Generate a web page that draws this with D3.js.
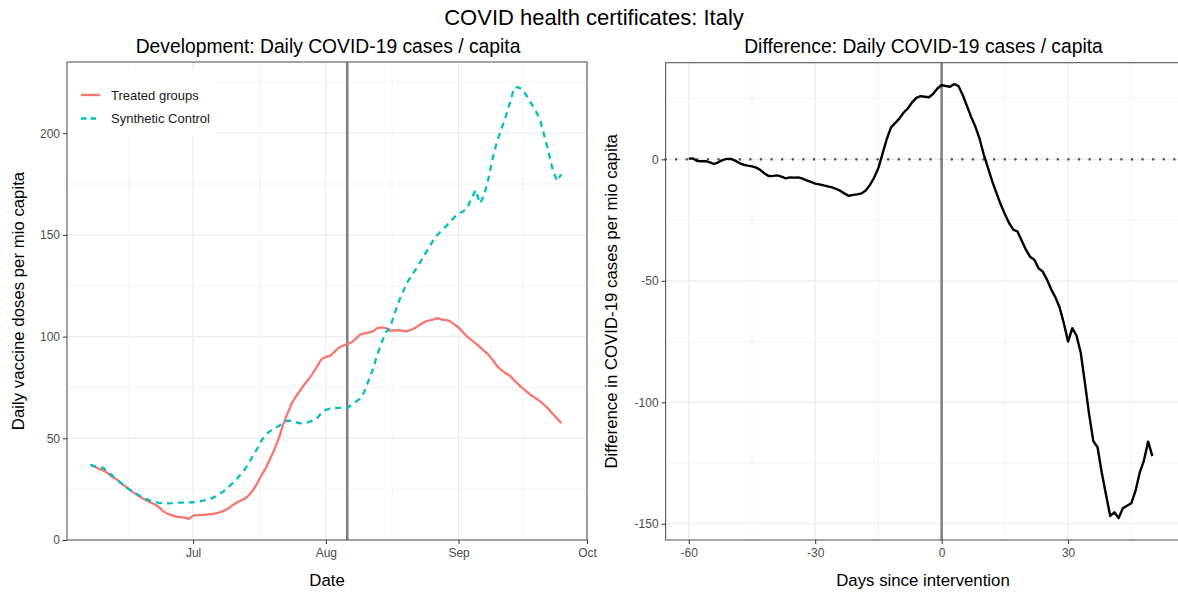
<!DOCTYPE html>
<html>
<head>
<meta charset="utf-8">
<script src="https://cdn.jsdelivr.net/npm/d3@7"></script>
<style>
  body { margin: 0; background: #fff; }
  svg { display: block; font-family: "Liberation Sans", Arial, Helvetica, sans-serif; }
</style>
</head>
<body>
<div id="chart"></div>
<script>
// daily values, 7 Jun 2021 .. 25 Sep 2021
var treated = [37, 36, 35, 34.2, 33, 31.2, 30, 28.2, 26.6, 25, 23.4, 22, 20.8, 19.6, 18.6, 17.6, 16.2, 14.2, 12.9, 12.2,
  11.5, 11.3, 11.0, 10.4, 12.0, 12.2, 12.3, 12.5, 12.7, 12.9, 13.5, 14.2, 15.2, 16.8, 18.2, 19.3, 20.2, 22, 24.5, 28,
  32, 35.5, 40, 44.5, 50, 56.5, 62, 67, 70.5, 73.5, 76.5, 79, 82, 85.5, 89, 90, 90.5, 92.5, 94.5, 95.5,
  96.3, 97.2, 99, 101, 101.6, 102, 102.6, 104.2, 104.5, 104.2, 102.8, 103, 103.2, 102.8, 102.6, 103.5, 104.4, 105.8, 107.2, 107.8,
  108.3, 109.1, 108.4, 108.2, 107.6, 106, 104.5, 102.2, 100, 98.3, 96.7, 94.8, 93, 91, 88.5, 85.5, 83.5, 82, 80.8, 78.5,
  76.5, 74.5, 72.8, 71, 69.8, 68.3, 66.5, 64.5, 62, 59.8, 57.4];

var synthetic = [37, 36.2, 36, 35.5, 33.5, 32, 30, 28.3, 26.5, 25, 23.5, 22.4, 21.2, 20.2, 19.4, 18.8, 18.3, 18.0, 18.0, 18.1,
  18.3, 18.4, 18.4, 18.5, 18.5, 18.8, 19.2, 19.6, 20.2, 21.2, 22.4, 23.8, 25.5, 27.5, 29.5, 32, 34.5, 37.8, 41.5, 45,
  49, 52, 53.5, 55, 56, 57.5, 58.7, 58.5, 57.8, 57.4, 57.4, 58, 58.8, 60, 62.5, 64, 64.6, 64.9, 65, 65,
  64.8, 66.5, 68, 69.5, 73, 78.5, 84, 91, 97, 102, 104.5, 111, 117, 122, 126.5, 130, 133, 136.5, 140, 143.5,
  147, 149.8, 152, 154, 156.5, 158.6, 160.5, 161.5, 163, 168, 172, 165.5, 169.5, 178, 188, 196, 202, 208, 215, 222.5,
  222.5, 221.5, 218, 214.5, 211, 207, 199, 191, 182, 176.5, 179.8];

// days -60 .. 50
var difference = [0.3, 0.4, -0.7, -0.8, -0.7, -1.2, -1.9, -1.2, -0.3, 0.2, 0.2, -0.5, -1.5, -2.2, -2.6, -2.9, -3.4, -4.4, -5.8, -6.9,
  -6.8, -6.6, -7.1, -7.8, -7.4, -7.5, -7.4, -7.9, -8.7, -9.3, -10, -10.3, -10.7, -11.1, -11.5, -12.2, -13.0, -14.1, -15, -14.6,
  -14.4, -14, -12.8, -10.5, -7.5, -3.5, 2.5, 8.5, 13.2, 15, 16.9, 19.3, 21, 23.5, 25.3, 26, 25.8, 25.6, 27, 29.2,
  30.6, 30.2, 29.9, 31, 30.2, 26.5, 22, 17.5, 13.5, 8.5, 2, -3.5, -9, -13.8, -18.5, -22.5, -26.2, -28.9, -29.7, -33.5,
  -37.2, -40.1, -41.3, -44.8, -46.2, -49.5, -53.5, -56.8, -61, -67.5, -75, -69.5, -72.5, -79.5, -92, -105, -116, -118.5, -129, -138,
  -146.8, -145.3, -147.7, -143.6, -142.6, -141.6, -136.5, -129, -124, -116.2, -122.2];

var startDate = new Date(2021, 5, 7);
var interventionDate = new Date(2021, 7, 6);
var monthTicks = [new Date(2021, 6, 1), new Date(2021, 7, 1), new Date(2021, 8, 1), new Date(2021, 9, 1)];
var leftYTicks = [0, 50, 100, 150, 200];
var leftYMinor = [25, 75, 125, 175, 225];
var rightXTicks = [-60, -30, 0, 30];
var rightXMinor = [-45, -15, 15, 45];
var rightYTicks = [-150, -100, -50, 0];
var rightYMinor = [-125, -75, -25, 25];
var seriesNames = ['Treated groups', 'Synthetic Control'];

var width = 1178, height = 593;
var red = '#F8766D', cyan = '#00BFC4';

var svg = d3.select('#chart').append('svg')
  .attr('width', width)
  .attr('height', height);

svg.append('rect').attr('width', width).attr('height', height).attr('fill', '#fff');

var L = {x0: 67, x1: 587, y0: 62, y1: 540};
var R = {x0: 665.6, x1: 1181, y0: 62.7, y1: 540};

var xDate = d3.scaleTime()
  .domain([new Date(2021, 5, 1, 13), new Date(2021, 9, 1, 0)])
  .range([L.x0, L.x1]);
var yLeft = d3.scaleLinear().domain([0, 235]).range([L.y1, L.y0]);

var xDays = d3.scaleLinear().domain([-65.5, 56.8]).range([R.x0, R.x1]);
var yRight = d3.scaleLinear().domain([-156.7, 39.8]).range([R.y1, R.y0]);

var dates = treated.map(function(d, i) { return d3.timeDay.offset(startDate, i); });
var days = d3.range(-60, -60 + difference.length);

// month midpoints for minor grid
var monthEdges = [new Date(2021, 5, 1)].concat(monthTicks);
var dateMinor = d3.pairs(monthEdges).map(function(p) {
  return new Date((p[0].getTime() + p[1].getTime()) / 2);
});

// ggplot style: plain hyphen for negatives
var plainNum = function(d) { return String(d); };

function grid(g, panel, xs, ys, xScale, yScale, color, w) {
  g.selectAll(null).data(xs).enter().append('line')
    .attr('x1', function(d) { return xScale(d); }).attr('x2', function(d) { return xScale(d); })
    .attr('y1', panel.y0).attr('y2', panel.y1)
    .attr('stroke', color).attr('stroke-width', w);
  g.selectAll(null).data(ys).enter().append('line')
    .attr('y1', function(d) { return yScale(d); }).attr('y2', function(d) { return yScale(d); })
    .attr('x1', panel.x0).attr('x2', panel.x1)
    .attr('stroke', color).attr('stroke-width', w);
}

function styleAxis(g) {
  g.select('.domain').remove();
  g.selectAll('.tick line').attr('stroke', '#333').attr('stroke-width', 1);
  g.selectAll('.tick text').attr('fill', '#4D4D4D').style('font-size', '12px');
}

// ---------- left panel ----------
var left = svg.append('g');
var inLeft = function(d) { return d >= xDate.domain()[0] && d <= xDate.domain()[1]; };
grid(left, L, dateMinor.filter(inLeft), leftYMinor, xDate, yLeft, '#F3F3F3', 1);
grid(left, L, monthTicks.filter(inLeft), leftYTicks, xDate, yLeft, '#EBEBEB', 1.2);

// legend box (covers grid)
var legend = svg.append('g');
legend.append('rect')
  .attr('x', 68).attr('y', 70).attr('width', 148).attr('height', 66)
  .attr('fill', '#fff');

left.append('line')
  .attr('x1', xDate(interventionDate)).attr('x2', xDate(interventionDate))
  .attr('y1', L.y0).attr('y2', L.y1)
  .attr('stroke', '#7F7F7F').attr('stroke-width', 2.5);

var lineDate = function(vals) {
  return d3.line()
    .x(function(d, i) { return xDate(dates[i]); })
    .y(function(d) { return yLeft(d); })(vals);
};

svg.append('path').attr('d', lineDate(treated))
  .attr('fill', 'none').attr('stroke', red).attr('stroke-width', 2.3)
  .attr('stroke-linejoin', 'round');
svg.append('path').attr('d', lineDate(synthetic))
  .attr('fill', 'none').attr('stroke', cyan).attr('stroke-width', 2.3)
  .attr('stroke-dasharray', '6,5');

svg.append('rect')
  .attr('x', L.x0).attr('y', L.y0).attr('width', L.x1 - L.x0).attr('height', L.y1 - L.y0)
  .attr('fill', 'none').attr('stroke', '#5a5a5a').attr('stroke-width', 1.1);

svg.append('g').attr('transform', 'translate(0,' + L.y1 + ')')
  .call(d3.axisBottom(xDate).tickValues(monthTicks).tickFormat(d3.timeFormat('%b')).tickSize(4).tickPadding(4))
  .call(styleAxis);
svg.append('g').attr('transform', 'translate(' + L.x0 + ',0)')
  .call(d3.axisLeft(yLeft).tickValues(leftYTicks).tickSize(4).tickPadding(3).tickFormat(plainNum))
  .call(styleAxis);

// legend items
var keys = legend.selectAll('.key').data(seriesNames).enter().append('g')
  .attr('transform', function(d, i) { return 'translate(81,' + (95 + i * 23.5) + ')'; });
keys.append('line')
  .attr('x1', 0).attr('x2', 19)
  .attr('stroke', function(d, i) { return i ? cyan : red; })
  .attr('stroke-width', 2.3)
  .attr('stroke-dasharray', function(d, i) { return i ? '5.5,4' : null; });
keys.append('text')
  .attr('x', 30).attr('dy', '0.35em')
  .style('font-size', '13px').attr('fill', '#1a1a1a')
  .text(function(d) { return d; });

// ---------- right panel ----------
var right = svg.append('g');
grid(right, R, rightXMinor, rightYMinor, xDays, yRight, '#F3F3F3', 1);
grid(right, R, rightXTicks, rightYTicks, xDays, yRight, '#EBEBEB', 1.2);

right.append('line')
  .attr('x1', R.x0).attr('x2', R.x1)
  .attr('y1', yRight(0)).attr('y2', yRight(0))
  .attr('stroke', '#555').attr('stroke-width', 2.6)
  .attr('stroke-linecap', 'round')
  .attr('stroke-dasharray', '0,10.6');

right.append('line')
  .attr('x1', xDays(0)).attr('x2', xDays(0))
  .attr('y1', R.y0).attr('y2', R.y1)
  .attr('stroke', '#7F7F7F').attr('stroke-width', 2.5);

right.append('path')
  .attr('d', d3.line()
    .x(function(d, i) { return xDays(days[i]); })
    .y(function(d) { return yRight(d); })(difference))
  .attr('fill', 'none').attr('stroke', '#000').attr('stroke-width', 2.4)
  .attr('stroke-linejoin', 'round');

svg.append('rect')
  .attr('x', R.x0).attr('y', R.y0).attr('width', R.x1 - R.x0).attr('height', R.y1 - R.y0)
  .attr('fill', 'none').attr('stroke', '#5a5a5a').attr('stroke-width', 1.1);

svg.append('g').attr('transform', 'translate(0,' + R.y1 + ')')
  .call(d3.axisBottom(xDays).tickValues(rightXTicks).tickSize(4).tickPadding(4).tickFormat(plainNum))
  .call(styleAxis);
svg.append('g').attr('transform', 'translate(' + R.x0 + ',0)')
  .call(d3.axisLeft(yRight).tickValues(rightYTicks).tickSize(4).tickPadding(3).tickFormat(plainNum))
  .call(styleAxis);

// ---------- titles ----------
svg.append('text').attr('x', 594).attr('y', 25)
  .attr('text-anchor', 'middle').style('font-size', '22px')
  .text('COVID health certificates: Italy');
svg.append('text').attr('x', 328).attr('y', 52.5)
  .attr('text-anchor', 'middle').style('font-size', '19.3px')
  .text('Development: Daily COVID-19 cases / capita');
svg.append('text').attr('x', 923.5).attr('y', 52.5)
  .attr('text-anchor', 'middle').style('font-size', '19.3px')
  .text('Difference: Daily COVID-19 cases / capita');

svg.append('text').attr('x', (L.x0 + L.x1) / 2).attr('y', 586)
  .attr('text-anchor', 'middle').style('font-size', '16.8px')
  .text('Date');
svg.append('text').attr('x', 923).attr('y', 586)
  .attr('text-anchor', 'middle').style('font-size', '16.8px')
  .text('Days since intervention');

svg.append('text')
  .attr('transform', 'translate(24,' + (L.y0 + L.y1) / 2 + ') rotate(-90)')
  .attr('text-anchor', 'middle').style('font-size', '16.8px')
  .text('Daily vaccine doses per mio capita');
svg.append('text')
  .attr('transform', 'translate(617,' + (R.y0 + R.y1) / 2 + ') rotate(-90)')
  .attr('text-anchor', 'middle').style('font-size', '16.8px')
  .text('Difference in COVID-19 cases per mio capita');
</script>
</body>
</html>
